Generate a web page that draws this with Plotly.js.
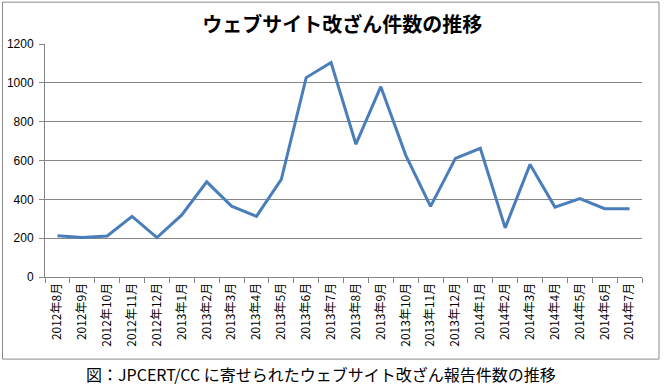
<!DOCTYPE html>
<html>
<head>
<meta charset="utf-8">
<script src="https://cdn.plot.ly/plotly-3.0.1.min.js"></script>
<style>html,body{margin:0;padding:0;background:#fff;}#chart{width:665px;height:387px;}</style>
</head>
<body>
<div id="chart"></div>
<script>
const months = ["2012年8月","2012年9月","2012年10月","2012年11月","2012年12月",
  "2013年1月","2013年2月","2013年3月","2013年4月","2013年5月","2013年6月","2013年7月",
  "2013年8月","2013年9月","2013年10月","2013年11月","2013年12月",
  "2014年1月","2014年2月","2014年3月","2014年4月","2014年5月","2014年6月","2014年7月"];
const reports = [213,204,211,312,203,320,490,365,312,503,1027,1105,
  684,980,628,364,611,663,253,580,360,404,352,352];
const yTicks = [0,200,400,600,800,1000,1200];
const titleText = "ウェブサイト改ざん件数の推移";
const captionText = "図：JPCERT/CC に寄せられたウェブサイト改ざん報告件数の推移";

const L = 45, R = 642, T = 44.3, B = 277;
const W = 665, H = 387;
const px2x = p => (p - L) / (R - L);
const py2y = p => (B - p) / (B - T);

const trace = {
  type: "scatter", mode: "lines", x: months, y: reports,
  line: {color: "#4A7EBB", width: 3},
  hoverinfo: "x+y"
};

const layout = {
  width: W, height: H,
  margin: {l: L, r: W - R, t: T, b: H - B, pad: 0},
  paper_bgcolor: "#ffffff", plot_bgcolor: "#ffffff",
  showlegend: false,
  title: {
    text: titleText,
    font: {family: "Noto Sans CJK JP", size: 20, color: "#000", weight: "bold"},
    x: 0.498, xanchor: "center", xref: "paper",
    y: 1 - 25 / H, yanchor: "middle", yref: "container"
  },
  xaxis: {
    type: "category",
    range: [-0.5, months.length - 0.5],
    tickangle: -90,
    tickson: "boundaries",
    ticks: "outside", ticklen: 5, tickcolor: "#868686", tickwidth: 1,
    showline: true, linecolor: "#868686", linewidth: 1,
    showgrid: false, zeroline: false,
    tickfont: {family: "Noto Sans CJK JP", size: 12, color: "#000"},
    fixedrange: true
  },
  yaxis: {
    range: [0, 1200],
    tickvals: yTicks,
    ticks: "outside", ticklen: 5, tickcolor: "#868686", tickwidth: 1,
    showline: true, linecolor: "#868686", linewidth: 1,
    showgrid: true, gridcolor: "#868686", gridwidth: 1,
    zeroline: false,
    tickfont: {family: "Liberation Sans", size: 12, color: "#000"},
    ticklabelstandoff: 3,
    fixedrange: true
  },
  shapes: [{
    type: "rect", xref: "paper", yref: "paper",
    x0: px2x(2.5), x1: px2x(659), y0: py2y(359), y1: py2y(2.5),
    line: {color: "#8a8a8a", width: 1}, fillcolor: "rgba(0,0,0,0)", layer: "below"
  }],
  annotations: [{
    text: captionText, showarrow: false,
    xref: "paper", yref: "paper",
    x: px2x(320.5), y: py2y(373.5), xanchor: "center", yanchor: "middle",
    font: {family: "Noto Sans CJK JP", size: 16, color: "#000"}
  }]
};

Plotly.newPlot("chart", [trace], layout, {displayModeBar: false, staticPlot: true});
</script>
</body>
</html>
